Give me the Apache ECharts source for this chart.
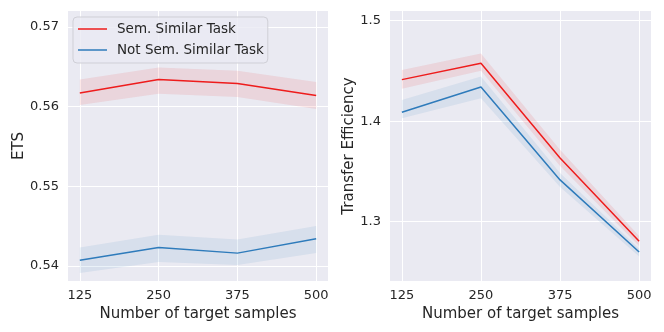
<!DOCTYPE html>
<html>
<head>
<meta charset="utf-8">
<script src="https://cdn.jsdelivr.net/npm/echarts@6/dist/echarts.min.js"></script>
<style>
  html, body { margin: 0; padding: 0; background: #fff; }
  #chart { width: 664px; height: 332px; }
</style>
</head>
<body>
<div id="chart"></div>
<script>
// target sample sizes
const samples = [125, 250, 375, 500]

// left panel: ETS
const etsSimilar = [0.5617, 0.5634, 0.5629, 0.5614]
const etsSimilarLow = [0.5602, 0.5616, 0.5612, 0.5597]
const etsSimilarHigh = [0.5634, 0.5649, 0.5645, 0.5631]
const etsNotSimilar = [0.5407, 0.5423, 0.5416, 0.5434]
const etsNotSimilarLow = [0.5391, 0.5405, 0.5401, 0.5416]
const etsNotSimilarHigh = [0.5423, 0.5439, 0.5433, 0.5450]
const etsTicks = [0.54, 0.55, 0.56, 0.57]

// right panel: transfer efficiency
const teSimilar = [1.4414, 1.4577, 1.3635, 1.2805]
const teSimilarLow = [1.4324, 1.4503, 1.3555, 1.2758]
const teSimilarHigh = [1.4510, 1.4673, 1.3715, 1.2858]
const teNotSimilar = [1.4090, 1.4340, 1.3416, 1.2699]
const teNotSimilarLow = [1.4030, 1.4229, 1.3346, 1.2655]
const teNotSimilarHigh = [1.4212, 1.4444, 1.3486, 1.2731]
const teTicks = [1.3, 1.4, 1.5]

const RED = '#ee1c1c'
const BLUE = '#2e7bbb'
const RED_BAND = 'rgba(238, 28, 28, 0.1)'
const BLUE_BAND = 'rgba(46, 123, 187, 0.1)'
const FONT = 'DejaVu Sans'
const TEXT = '#262626'

const pairs = (ys) => samples.map((x, i) => [x, ys[i]])

// confidence band as one polygon, drawn through the axis scales
const band = (idx, lo, hi, color) => ({
  type: 'custom',
  xAxisIndex: idx,
  yAxisIndex: idx,
  silent: true,
  z: 1,
  data: samples.map((x, i) => [x, lo[i], hi[i]]),
  renderItem: (params, api) => {
    if (params.dataIndexInside !== 0) return null
    const n = params.dataInsideLength
    const upper = []
    const lower = []
    for (let i = 0; i < n; i++) {
      upper.push(api.coord([api.value(0, i), api.value(2, i)]))
      lower.push(api.coord([api.value(0, i), api.value(1, i)]))
    }
    return {
      type: 'polygon',
      shape: { points: upper.concat(lower.reverse()) },
      style: { fill: color },
    }
  },
})

const mainLine = (name, idx, ys, color) => ({
  name: name,
  type: 'line',
  xAxisIndex: idx,
  yAxisIndex: idx,
  data: pairs(ys),
  symbol: 'none',
  lineStyle: { color: color, width: 1.5 },
  itemStyle: { color: color },
  z: 3,
})

const xAxisBase = (idx) => ({
  type: 'value',
  gridIndex: idx,
  min: 106.25,
  max: 518.75,
  name: 'Number of target samples',
  nameLocation: 'middle',
  nameGap: 23,
  nameTextStyle: { fontFamily: FONT, fontSize: 15, color: TEXT },
  axisLine: { show: false },
  axisTick: { show: false, customValues: samples },
  axisLabel: { customValues: samples, fontFamily: FONT, fontSize: 13, color: TEXT, margin: 8 },
  splitLine: { show: true, lineStyle: { color: '#ffffff', width: 1 } },
})

const yAxisBase = (idx, name, min, max, ticks, gap) => ({
  type: 'value',
  gridIndex: idx,
  min: min,
  max: max,
  name: name,
  nameLocation: 'middle',
  nameGap: gap,
  nameTextStyle: { fontFamily: FONT, fontSize: 15, color: TEXT },
  axisLine: { show: false },
  axisTick: { show: false, customValues: ticks },
  axisLabel: { customValues: ticks, fontFamily: FONT, fontSize: 13, color: TEXT, margin: 9 },
  splitLine: { show: true, lineStyle: { color: '#ffffff', width: 1 } },
})

const chart = echarts.init(document.getElementById('chart'), null, { renderer: 'canvas' })

chart.setOption({
  animation: false,
  backgroundColor: '#ffffff',
  textStyle: { fontFamily: FONT },
  grid: [
    { left: 68, right: 336, top: 11, bottom: 51, show: true, backgroundColor: '#eaeaf2', borderWidth: 0 },
    { left: 390, right: 13, top: 11, bottom: 51, show: true, backgroundColor: '#eaeaf2', borderWidth: 0 },
  ],
  legend: {
    data: ['Sem. Similar Task', 'Not Sem. Similar Task'],
    orient: 'vertical',
    left: 73,
    top: 17,
    padding: [5, 4, 6, 5],
    icon: 'rect',
    itemWidth: 29,
    itemHeight: 1.5,
    itemGap: 7,
    textStyle: { fontFamily: FONT, fontSize: 13.5, color: TEXT, padding: [0, 0, 0, 5] },
    backgroundColor: 'rgba(234, 234, 242, 0.8)',
    borderColor: '#cfcfd6',
    borderWidth: 1,
    borderRadius: 4,
  },
  xAxis: [xAxisBase(0), xAxisBase(1)],
  yAxis: [
    yAxisBase(0, 'ETS', 0.5381, 0.5720, etsTicks, 41),
    yAxisBase(1, 'Transfer Efficiency', 1.2410, 1.5097, teTicks, 32),
  ],
  series: [
    band(0, etsSimilarLow, etsSimilarHigh, RED_BAND),
    band(0, etsNotSimilarLow, etsNotSimilarHigh, BLUE_BAND),
    mainLine('Sem. Similar Task', 0, etsSimilar, RED),
    mainLine('Not Sem. Similar Task', 0, etsNotSimilar, BLUE),
    band(1, teSimilarLow, teSimilarHigh, RED_BAND),
    band(1, teNotSimilarLow, teNotSimilarHigh, BLUE_BAND),
    mainLine('Sem. Similar Task', 1, teSimilar, RED),
    mainLine('Not Sem. Similar Task', 1, teNotSimilar, BLUE),
  ],
})
</script>
</body>
</html>
